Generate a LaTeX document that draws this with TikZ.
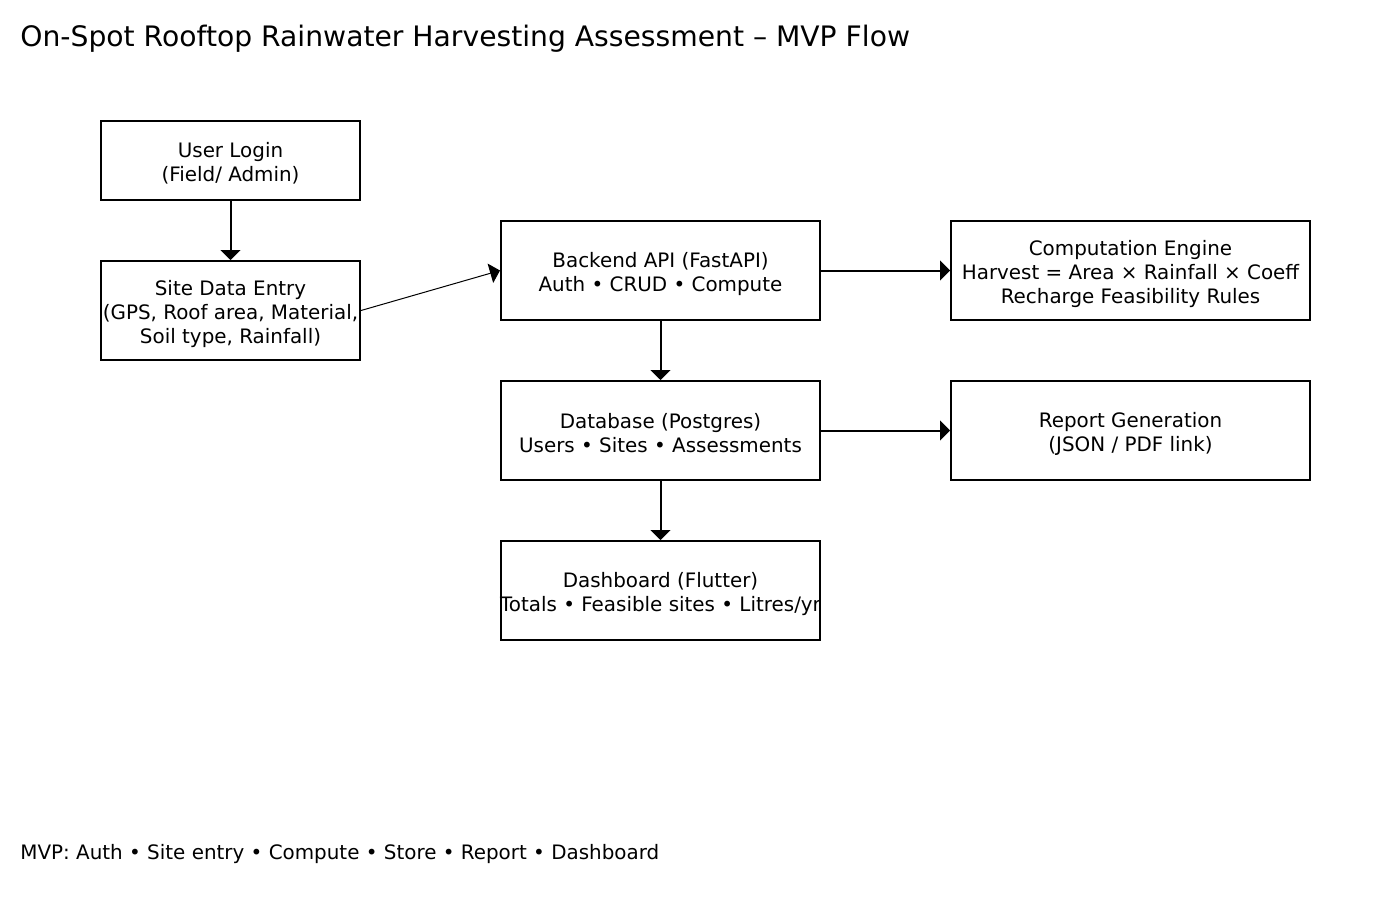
\documentclass[tikz,border=0pt]{standalone}
\usepackage{fontspec}
\setmainfont{DejaVu Sans}
\usetikzlibrary{arrows.meta}
\newcommand{\topgap}{\rule{0pt}{10.6pt}}

\begin{document}
\begin{tikzpicture}[x=0.5pt, y=-0.5pt,
        b/.style={draw, line width=1pt, align=center, inner sep=0pt, font=\fontsize{9.95}{12}\selectfont},
        arr/.style={-{Triangle[length=5pt, width=10pt]}, line width=1pt},
        thinarr/.style={-{Triangle[length=5pt, width=10pt]}, line width=0.5pt},
        note/.style={anchor=west, inner sep=0pt}]
      \useasboundingbox (0,0) rectangle (1400,900);
      \node[note, font=\fontsize{14.1}{17}\selectfont] (title) at (20,39) {On-Spot Rooftop Rainwater Harvesting Assessment – MVP Flow};
      \node[b, minimum width=129.5pt, minimum height=39.5pt] (login) at (230.5,160.5) {\topgap User Login\\(Field/ Admin)};
      \node[b, minimum width=129.5pt, minimum height=49.5pt] (site) at (230.5,310.5) {\topgap Site Data Entry\\(GPS, Roof area, Material,\\Soil type, Rainfall)};
      \node[b, minimum width=159.5pt, minimum height=49.5pt] (api) at (660.5,270.5) {\topgap Backend API (FastAPI)\\Auth • CRUD • Compute};
      \node[b, minimum width=179.5pt, minimum height=49.5pt] (engine) at (1130.5,270.5) {\topgap Computation Engine\\Harvest = Area × Rainfall × Coeff\\Recharge Feasibility Rules};
      \node[b, minimum width=159.5pt, minimum height=49.5pt] (db) at (660.5,430.5) {\topgap Database (Postgres)\\Users • Sites • Assessments};
      \node[b, minimum width=179.5pt, minimum height=49.5pt] (report) at (1130.5,430.5) {\topgap Report Generation\\(JSON / PDF link)};
      \node[b, minimum width=159.5pt, minimum height=49.5pt] (dash) at (660.5,590.5) {\topgap Dashboard (Flutter)\\\makebox[150pt]{Totals • Feasible sites • Litres/yr}};
      \node[note, font=\fontsize{9.95}{12}\selectfont] (footer) at (20,854) {MVP: Auth • Site entry • Compute • Store • Report • Dashboard};
      \draw[arr] (login) -- (site);
      \draw[thinarr] (site.east) -- (api.west);
      \draw[arr] (api) -- (engine);
      \draw[arr] (api) -- (db);
      \draw[arr] (db) -- (report);
      \draw[arr] (db) -- (dash);
      \end{tikzpicture}
\end{document}
